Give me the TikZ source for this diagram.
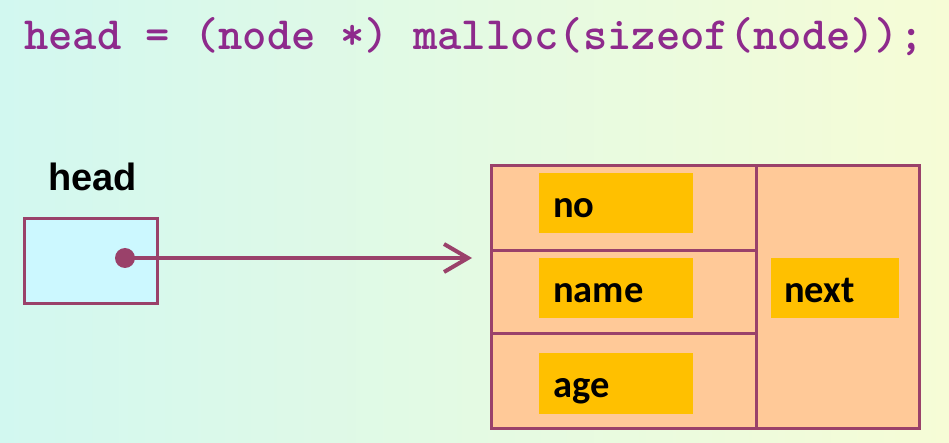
\documentclass[tikz,border=0pt]{standalone}
\usepackage{fontspec}
\setmainfont{Carlito}
\newfontfamily\labfont{Liberation Sans}
\usetikzlibrary{arrows.meta}
\definecolor{bordc}{HTML}{9A416A}
\definecolor{peach}{HTML}{FFC998}
\definecolor{gold}{HTML}{FFC000}
\definecolor{headfill}{HTML}{CCF8FF}
\definecolor{codec}{HTML}{8E2A8C}
\definecolor{bgl}{HTML}{D2F8F0}
\definecolor{bgr}{HTML}{F6FCD6}
\tikzset{
  cell/.style={draw=bordc, line width=3pt, fill=peach, inner sep=0pt, anchor=north west},
  field/.style={fill=gold, inner ysep=0pt, anchor=north west, align=left,
    text height=44pt, text depth=16pt, font=\fontsize{38.5}{38.5}\selectfont\bfseries},
  ptrbox/.style={draw=bordc, line width=3pt, fill=headfill, inner sep=0pt, anchor=north west,
    minimum width=133pt, minimum height=85pt},
  ptr/.style={draw=bordc, line width=4pt, -{Straight Barb[length=24pt,width=28pt,line width=4pt]}}
}
\begin{document}
\begin{tikzpicture}[x=1pt,y=-1pt]
\useasboundingbox (0,0) rectangle (949,443);
\shade[left color=bgl, right color=bgr] (0,0) rectangle (949,443);
\node[anchor=base west, inner sep=0pt, text=codec, font=\ttfamily\bfseries\fontsize{46.3}{46.3}\selectfont] (code) at (24,50) {head = (node *) malloc(sizeof(node));};
% pointer variable
\node[anchor=base, inner sep=0pt, font=\labfont\fontsize{38}{38}\selectfont\bfseries] (headlab) at (92.5,191) {head};
\node[ptrbox] (head) at (23,217) {};
\coordinate (dot) at (125,258);
% struct
\node[cell, minimum width=265pt, minimum height=85pt] (cno) at (490,164) {};
\node[cell, minimum width=265pt, minimum height=83pt] (cname) at (490,249) {};
\node[cell, minimum width=265pt, minimum height=95pt] (cage) at (490,332) {};
\node[cell, minimum width=163pt, minimum height=263pt] (cnext) at (755,164) {};
\node[field, inner xsep=14pt, text width=126pt] (fno) at (539,173) {no};
\node[field, inner xsep=14pt, text width=126pt] (fname) at (539,258) {name};
\node[field, inner xsep=14pt, text width=126pt, text depth=17pt] (fage) at (539,353) {age};
\node[field, inner xsep=13pt, text width=102pt] (fnext) at (771,258) {next};
% arrow
\draw[ptr, shorten >=18pt] (dot) -- (dot -| cname.west);
\fill[bordc] (dot) circle (10pt);
\end{tikzpicture}
\end{document}
